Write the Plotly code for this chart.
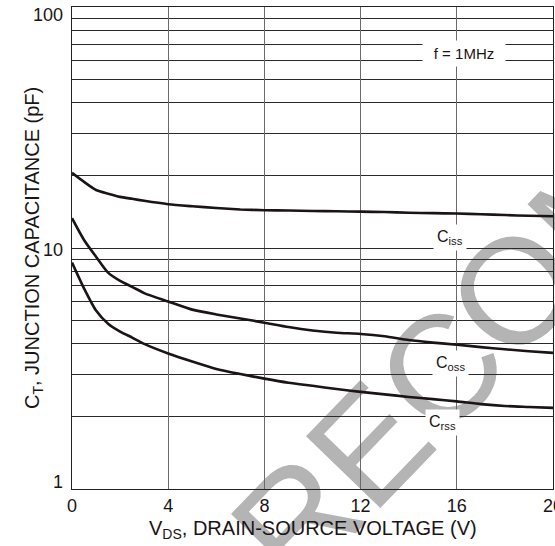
import numpy as np
import plotly.graph_objects as go

# ---- data ----
vds = [0, 0.5, 1, 1.5, 2, 2.5, 3, 4, 5, 6, 7, 8, 9, 10, 11, 12, 13, 14, 15, 16, 17, 18, 19, 20]
ciss = [20.5, 18.8, 17.4, 16.8, 16.3, 16.0, 15.7, 15.2, 14.9, 14.65, 14.45, 14.35, 14.3, 14.25,
        14.2, 14.15, 14.1, 14.0, 13.95, 13.9, 13.8, 13.7, 13.6, 13.55]
coss = [13.3, 10.8, 9.2, 7.9, 7.3, 6.9, 6.5, 6.0, 5.55, 5.3, 5.1, 4.9, 4.7, 4.55,
        4.45, 4.4, 4.3, 4.15, 4.05, 3.97, 3.88, 3.8, 3.73, 3.67]
crss = [8.7, 6.8, 5.5, 4.85, 4.5, 4.25, 4.0, 3.65, 3.38, 3.15, 3.0, 2.87, 2.76, 2.68,
        2.6, 2.53, 2.47, 2.41, 2.36, 2.31, 2.25, 2.21, 2.19, 2.17]

x_ticks = [0, 4, 8, 12, 16, 20]
y_ticks = [1, 10, 100]
y_tick_text = ["1", "10", "100"]
y_minor = [2, 3, 4, 5, 6, 7, 8, 9, 20, 30, 40, 50, 60, 70, 80, 90]

x_title = "V<sub>DS</sub>, DRAIN-SOURCE VOLTAGE (V)"
y_title = "C<sub>T</sub>, JUNCTION CAPACITANCE (pF)"
# curve labels: (text, x, y-value)
curve_labels = [("C<sub>iss</sub>", 15.7, 11.1), ("C<sub>oss</sub>", 15.75, 3.33), ("C<sub>rss</sub>", 15.4, 1.88)]
note = ("f = 1MHz", 16.3, 64.4)
# watermark letters and their centres (paper fractions)
wm_letters = ["R", "E", "C", "O", "M"]
wm_x = [0.447, 0.597, 0.746, 0.900, 1.075]
wm_y = [-0.043, 0.112, 0.268, 0.432, 0.612]

FONT = "Liberation Sans, Arial, Helvetica, sans-serif"
INK = "#1a1414"

fig = go.Figure()
for series in (ciss, coss, crss):
    fig.add_trace(go.Scatter(x=vds, y=series, mode="lines",
                             line=dict(color=INK, width=2.6, shape="spline", smoothing=0.6),
                             showlegend=False, hoverinfo="skip"))

annotations = []
# y tick labels (the end labels sit slightly inside the frame, as in the reference)
y_label_shift = {1: 7, 10: -2, 100: -8}
for v, t in zip(y_ticks, y_tick_text):
    annotations.append(dict(x=0, y=np.log10(v), xref="paper", yref="y", text=t, showarrow=False,
                            xanchor="right", xshift=-7, yshift=y_label_shift[v],
                            font=dict(family=FONT, size=18, color=INK)))
for txt, xv, yv in curve_labels:
    annotations.append(dict(x=xv, y=np.log10(yv), xref="x", yref="y", text=txt, showarrow=False,
                            font=dict(family=FONT, size=16, color=INK), bgcolor="white", borderpad=3))
annotations.append(dict(x=note[1], y=np.log10(note[2]), xref="x", yref="y", text=note[0], showarrow=False,
                        font=dict(family=FONT, size=15, color=INK), bgcolor="white", borderpad=4, width=74))
annotations.append(dict(x=0.5, y=-0.085, xref="paper", yref="paper", text=x_title, showarrow=False,
                        font=dict(family=FONT, size=20, color=INK), yanchor="middle"))
annotations.append(dict(x=-0.081, y=0.5, xref="paper", yref="paper", text=y_title, showarrow=False,
                        textangle=-90, font=dict(family=FONT, size=20, color=INK), xanchor="center"))

shapes = []
for ch, px_, py_ in zip(wm_letters, wm_x, wm_y):
    shapes.append(dict(type="rect", xref="paper", yref="paper",
                       x0=px_ - 0.002, x1=px_ + 0.002, y0=py_ - 0.002, y1=py_ + 0.002,
                       line=dict(width=0), fillcolor="rgba(0,0,0,0)", layer="below",
                       label=dict(text=ch, textposition="middle center", textangle=-46,
                                  font=dict(family=FONT, size=150, color="#b4b4b4"))))

fig.update_layout(
    width=555, height=546, autosize=False,
    margin=dict(l=72, r=2, t=7, b=57, autoexpand=False),
    paper_bgcolor="white", plot_bgcolor="rgba(0,0,0,0)",
    font=dict(family=FONT, color=INK),
    annotations=annotations, shapes=shapes,
    xaxis=dict(range=[0, 20], tickvals=x_ticks, showgrid=True, gridcolor="#6a6a6a", gridwidth=1.3,
               showline=True, linecolor="#222", linewidth=1.3, mirror=True, ticks="", zeroline=False,
               automargin=False, ticklabeloverflow="allow",
               tickfont=dict(family=FONT, size=18, color=INK)),
    yaxis=dict(type="log", range=[0, 2], tickvals=y_ticks, showticklabels=False, showgrid=True,
               gridcolor="#2a2a2a", gridwidth=1, showline=True, linecolor="#222", linewidth=1.3,
               mirror=True, ticks="", zeroline=False, automargin=False,
               minor=dict(tickvals=y_minor, showgrid=True, gridcolor="#2a2a2a", gridwidth=1, ticks="")),
)

post = ("document.body.style.margin='0';document.body.style.overflow='hidden';"
        "var gd=document.getElementById('{plot_id}');"
        "Plotly.relayout(gd,{width:555,height:546});")
fig.write_html("out.html", config={"responsive": False, "displayModeBar": False}, post_script=post)
